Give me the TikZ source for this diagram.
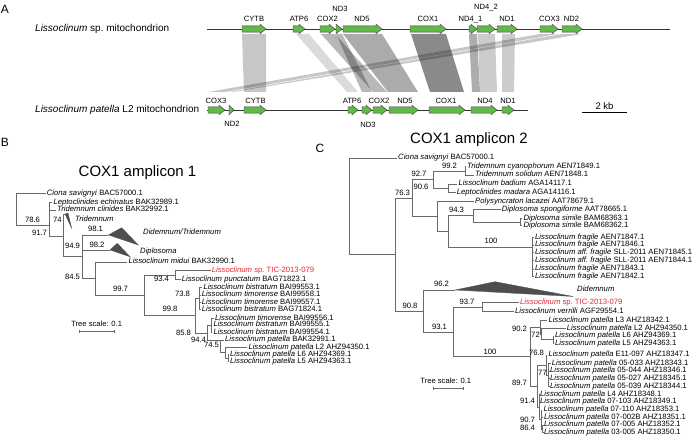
\documentclass[tikz,border=0pt]{standalone}
\usepackage{fontspec}
\setmainfont{Liberation Sans}
\usetikzlibrary{arrows.meta}
\definecolor{genegreen}{RGB}{98,184,73}
\definecolor{ticred}{RGB}{228,38,52}
\definecolor{branchgray}{RGB}{105,105,105}
\definecolor{cladegray}{RGB}{78,78,78}

\begin{document}
\begin{tikzpicture}[
    x=1pt, y=-1pt,
    leaf/.style={anchor=west, inner sep=1pt, text height=5.4pt, text depth=1.5pt, font=\fontsize{7.7}{8}\selectfont},
    boot/.style={inner sep=0pt, text height=5.4pt, text depth=1.5pt, font=\fontsize{7.7}{8}\selectfont},
    branch/.style={draw=branchgray, line width=0.5pt},
    clade/.style={fill=cladegray, draw=cladegray, line width=0.3pt},
    gene/.style={fill=genegreen, draw=black!75, line width=0.45pt},
    glab/.style={inner sep=0pt, font=\fontsize{7.6}{8}\selectfont},
    band/.style={fill=black},
    species/.style={anchor=west, inner sep=0pt, font=\fontsize{10}{12}\selectfont},
    title/.style={inner sep=0pt, font=\fontsize{15}{18}\selectfont},
    panel/.style={inner sep=0pt, font=\fontsize{12}{14}\selectfont},
    scale_txt/.style={inner sep=0pt, font=\fontsize{7.6}{8}\selectfont}
]
\useasboundingbox (0,0) rectangle (696,446);

% ================= Panel A: genome maps =================

\node[panel] (pA) at (5,9.5) {A};
\node[species] (spTop) at (35,29) {\textit{Lissoclinum} sp.\ mitochondrion};
\node[species] (spBot) at (35,110) {\textit{Lissoclinum patella} L2 mitochondrion};

\coordinate (topL) at (207,29);
\coordinate (topR) at (670,29);
\coordinate (botL) at (207,110);
\coordinate (botR) at (528,110);

% Synteny bands (top gene -> bottom gene)
\foreach \a/\b/\c/\d/\o in {242/266/244/266/0.22, 296/309/347/358/0.14, 321/335/373/387/0.28,
    336/342/362/372/0.28, 343/382/388/418/0.33, 411/446/430/464/0.46, 469/477/472/480/0.32,
    478/495/480/497/0.2, 502/515/502/514/0.2, 540/558/208/225/0.22, 562/582/229/234/0.22}
  \fill[band, fill opacity=\o] (\a,34) -- (\b,34) -- (\d,92) -- (\c,92) -- cycle;

\draw[line width=0.6pt, black!80] (topL) -- (topR);
\draw[line width=0.6pt, black!80] (botL) -- (botR);

% Genes, top genome
\foreach \a/\b in {242/266, 293/305, 320/335, 336/342, 343/382, 410/446, 469/477, 477/495, 497/517, 540/558, 562/582}{
  \pgfmathsetmacro\hd{min(6,\b-\a)}
  \draw[gene] (\a,25.8) -- (\b-\hd,25.8) -- (\b-\hd,24.2) -- (\b,29) -- (\b-\hd,33.8) -- (\b-\hd,32.2) -- (\a,32.2) -- cycle;
}
% Genes, bottom genome
\foreach \a/\b in {208/225, 229/234, 244/266, 348/358, 362/372, 373/387, 389/418, 429/465, 471/497, 502/514}{
  \pgfmathsetmacro\hd{min(6,\b-\a)}
  \draw[gene] (\a,106.8) -- (\b-\hd,106.8) -- (\b-\hd,105.2) -- (\b,110) -- (\b-\hd,114.8) -- (\b-\hd,113.2) -- (\a,113.2) -- cycle;
}

% Gene labels
\foreach \nm/\px/\py/\lbl in {tCYTB/254/19.3/CYTB, tATP6/299/19.3/ATP6, tCOX2/327.5/19.3/COX2, tND3/340/9.3/ND3,
    tND5/362/19.3/ND5, tCOX1/428/19.3/COX1, tNDa/470.5/19.3/ND4\_1, tNDb/486/7.8/ND4\_2, tND1/507/19.3/ND1,
    tCOX3/549.5/19.3/COX3, tND2/571.5/19.3/ND2,
    bCOX3/216/101/COX3, bND2/232/123.5/ND2, bCYTB/255.5/101/CYTB, bATP6/352/101/ATP6, bND3/368/124.5/ND3,
    bCOX2/379/101/COX2, bND5/405/101/ND5, bCOX1/446/101/COX1, bND4/485/101/ND4, bND1/508/101/ND1}
  \node[glab] (\nm) at (\px,\py) {\lbl};

% Scale bar
\coordinate (kbL) at (582,112.3);
\coordinate (kbR) at (627,112.3);
\draw[line width=0.6pt] (kbL) -- (kbR);
\node[inner sep=0pt, font=\fontsize{9.5}{11}\selectfont] (kb) at (604.5,106) {2 kb};

% ================= Panel B: COX1 amplicon 1 =================

\node[panel] (pB) at (5,142) {B};
\node[title] (tB) at (137.5,172.5) {COX1 amplicon 1};

% Leaves
\foreach \nm/\px/\py/\lbl in {
    bCio/45.7/193.3/{\textit{Ciona savignyi} BAC57000.1},
    bLep/52.3/202.3/{\textit{Leptoclinides echinatus} BAK32989.1},
    bTcl/56/210/{\textit{Tridemnum clinides} BAK32992.1},
    bTriL/74/219.3/{\textit{Tridemnum}},
    bDidL/142/232.7/{\textit{Didemnum/Tridemnum}},
    bDipL/139/252/{\textit{Diplosoma}},
    bMid/127.3/262/{\textit{Lissoclinum midui} BAK32990.1},
    bPun/180.7/279.3/{\textit{Lissoclinum punctatum} BAG71823.1},
    bBi1/202.3/287.3/{\textit{Lissoclinum bistratum} BAI99553.1},
    bTi1/200.7/295/{\textit{Lissoclinum timorense} BAI99558.1},
    bTi2/200.7/302.3/{\textit{Lissoclinum timorense} BAI99557.1},
    bBi2/200.7/309.3/{\textit{Lissoclinum bistratum} BAG71824.1},
    bTi3/214/318.3/{\textit{Lissoclinum timorense} BAI99556.1},
    bBi3/212.3/325/{\textit{Lissoclinum bistratum} BAI99555.1},
    bBi4/212.3/332.7/{\textit{Lissoclinum bistratum} BAI99554.1},
    bPa1/224/340/{\textit{Lissoclinum patella} BAK32991.1},
    bPL2/247.3/347.3/{\textit{Lissoclinum patella} L2 AHZ94350.1},
    bPL6/229/354.3/{\textit{Lissoclinum patella} L6 AHZ94369.1},
    bPL5/229/361.7/{\textit{Lissoclinum patella} L5 AHZ94363.1}}
  \node[leaf] (\nm) at (\px,\py) {\lbl};
\node[leaf, text=ticred] (bTIC) at (210.7,270.7) {\textit{Lissoclinum} sp.\ TIC-2013-079};

% Internal nodes
\foreach \nm/\px/\py in {bR/16/209, bA/49/225, b91/63/236, b949/82/256.5, b845/95/278.6, b997/144/295.3,
    b934/175/275, b998/195/315.5, b738/199/298, b858/207/333, bTim/211/325.3, b944/220/340,
    b745/225/352.7, bL65/228/358, bTriT/65/214, bDidT/108.3/235, bDipT/110/250}
  \coordinate (\nm) at (\px,\py);

% Collapsed clades
\fill[clade] (bTriT) -- (68,213) -- (71.7,228.3) -- cycle;
\fill[clade] (bDidT) -- (121.7,227.7) -- (138.3,245) -- cycle;
\fill[clade] (bDipT) -- (117.3,243.3) -- (130,256.7) -- cycle;

% Branches
\foreach \pa/\ch in {bR/bCio, bR/bA, bA/bLep, bA/bTcl, bA/b91, b91/bTriT, b91/b949, b949/bDidT, b949/bDipT,
    b949/b845, b845/bMid, b845/b997, b997/b934, b997/b998, b934/bTIC, b934/bPun, b998/b738, b998/b858,
    b738/bBi1, b738/bTi1, b738/bTi2, b738/bBi2, b858/bTim, b858/b944, bTim/bTi3, bTim/bBi3, bTim/bBi4,
    b944/bPa1, b944/b745, b745/bPL2, b745/bL65, bL65/bPL6, bL65/bPL5}
  \draw[branch] (\pa) |- (\ch);

% Support values
\foreach \nm/\px/\py/\lbl in {s786/32.5/220.7/78.6, s74/57.5/220.7/74, s917/39.5/234/91.7, s981/95.5/230/98.1,
    s949/72.5/247/94.9, s982/97/246/98.2, s845/72.5/278/84.5, s997/120.5/290/99.7, s934/161.5/280/93.4,
    s738/182.5/295/73.8, s998/170/309.5/99.8, s858/183.5/334/85.8, s944/198.5/340.7/94.4, s745/211.5/345.5/74.5}
  \node[boot] (\nm) at (\px,\py) {\lbl};

% Tree scale
\coordinate (bsL) at (79.3,331.7);
\coordinate (bsR) at (114,331.7);
\draw[branch, {Bar[width=3pt]}-{Bar[width=3pt]}] (bsL) -- (bsR);
\node[scale_txt] (bsT) at (96.7,324) {Tree scale: 0.1};

% ================= Panel C: COX1 amplicon 2 =================

\node[panel] (pC) at (320,148.5) {C};
\node[title] (tC) at (469,139.5) {COX1 amplicon 2};

% Leaves
\foreach \nm/\px/\py/\lbl in {
    cCio/397/158/{\textit{Ciona savignyi} BAC57000.1},
    cTcy/466/166.7/{\textit{Tridemnum cyanophorum} AEN71849.1},
    cTso/474/175/{\textit{Tridemnum solidum} AEN71848.1},
    cLba/457.3/184/{\textit{Lissoclinum badium} AGA14117.1},
    cLma/455.7/192.7/{\textit{Leptoclinides madara} AGA14116.1},
    cPol/474/201.7/{\textit{Polysyncraton lacazei} AAT78679.1},
    cDsp/500.7/209.3/{\textit{Diplosoma spongiforme} AAT78665.1},
    cDs1/522.3/218.3/{\textit{Diplosoma simile} BAM68363.1},
    cDs2/522.3/225.7/{\textit{Diplosoma simile} BAM68362.1},
    cFr1/534/237.3/{\textit{Lissoclinum fragile} AEN71847.1},
    cFr2/534/245/{\textit{Lissoclinum fragile} AEN71846.1},
    cFr3/534/252.7/{\textit{Lissoclinum aff.\ fragile} SLL-2011 AEN71845.1},
    cFr4/534/260.7/{\textit{Lissoclinum aff.\ fragile} SLL-2011 AEN71844.1},
    cFr5/534/269/{\textit{Lissoclinum fragile} AEN71843.1},
    cFr6/534/276.7/{\textit{Lissoclinum fragile} AEN71842.1},
    cDidL/576/289.3/{\textit{Didemnum}},
    cVer/514/311.7/{\textit{Lissoclinum verrilli} AGF29554.1},
    cL3/547.3/320.7/{\textit{Lissoclinum patella} L3 AHZ18342.1},
    cL2/565.7/328.3/{\textit{Lissoclinum patella} L2 AHZ94350.1},
    cL6/554/336/{\textit{Lissoclinum patella} L6 AHZ94369.1},
    cL5/554/343.3/{\textit{Lissoclinum patella} L5 AHZ94363.1},
    cE11/547.3/355/{\textit{Lissoclinum patella} E11-097 AHZ18347.1},
    c033/550.7/363.3/{\textit{Lissoclinum patella} 05-033 AHZ18343.1},
    c044/549/371/{\textit{Lissoclinum patella} 05-044 AHZ18346.1},
    c027/549/378.7/{\textit{Lissoclinum patella} 05-027 AHZ18345.1},
    c039/549/386.7/{\textit{Lissoclinum patella} 05-039 AHZ18344.1},
    cL4/539/394.3/{\textit{Lissoclinum patella} L4 AHZ18348.1},
    c103/539/402/{\textit{Lissoclinum patella} 07-103 AHZ18349.1},
    c110/542.3/410/{\textit{Lissoclinum patella} 07-110 AHZ18353.1},
    c02B/543/417.7/{\textit{Lissoclinum patella} 07-002B AHZ18351.1},
    c005/543/425/{\textit{Lissoclinum patella} 07-005 AHZ18352.1},
    c305/543/432.7/{\textit{Lissoclinum patella} 03-005 AHZ18350.1}}
  \node[leaf] (\nm) at (\px,\py) {\lbl};
\node[leaf, text=ticred] (cTIC) at (519,302.3) {\textit{Lissoclinum} sp.\ TIC-2013-079};

% Internal nodes
\foreach \nm/\px/\py in {cR/349/206.2, cN/395/254.5, c76/412/198, c92/433/179.7, c99/465/170.9, c906/448/188.3,
    cLow/437/216.4, cD/448/231.3, c94/473/215.6, cSim/520/222, c100a/532/247, c908/423/310.9,
    c931/453/331.8, c937/482/307, c100b/530/356.7, c902/540/327.4, c72/541.5/334, cL65/553/339.7,
    c897/537/386, c768/546/365, c77/548.5/375, c914/539/406.9, c907/541/419.4, c864/542.5/428.9,
    cDidT/455/290}
  \coordinate (\nm) at (\px,\py);

% Collapsed clade
\fill[clade] (cDidT) -- (495,281.7) -- (573.3,296.5) -- cycle;

% Branches
\foreach \pa/\ch in {cR/cCio, cR/cN, cN/c76, cN/c908, c76/c92, c76/cLow, c92/c99, c92/c906, c99/cTcy, c99/cTso,
    c906/cLba, c906/cLma, cLow/cPol, cLow/cD, cD/c94, cD/c100a, c94/cDsp, c94/cSim, cSim/cDs1, cSim/cDs2,
    c100a/cFr1, c100a/cFr2, c100a/cFr3, c100a/cFr4, c100a/cFr5, c100a/cFr6, c908/cDidT, c908/c931,
    c931/c937, c931/c100b, c937/cTIC, c937/cVer, c100b/c902, c100b/c897, c902/cL3, c902/c72, c72/cL2,
    c72/cL65, cL65/cL6, cL65/cL5, c897/c768, c897/c914, c768/cE11, c768/c77, c77/c033, c77/c044,
    c77/c027, c77/c039, c914/cL4, c914/c103, c914/c907, c907/c110, c907/c02B, c907/c864, c864/c005, c864/c305}
  \draw[branch] (\pa) |- (\ch);

% Support values
\foreach \nm/\px/\py/\lbl in {t992/449.5/167/99.2, t927/419/175/92.7, t906/421/188/90.6, t763/402.5/193.3/76.3,
    t943/456.5/210.5/94.3, t100a/491/242/100, t962/441.5/285/96.2, t908/410/306.3/90.8, t937/467/302.5/93.7,
    t931/439.5/327.3/93.1, t902/519.5/330/90.2, t72/535.5/335.5/72, t100b/490/352.3/100, t768/536.5/353.5/76.8,
    t77/542.5/373.3/77, t897/519.5/383.3/89.7, t914/527.5/402/91.4, t907/527.5/421/90.7, t864/527.5/428.5/86.4}
  \node[boot] (\nm) at (\px,\py) {\lbl};

% Tree scale
\coordinate (csL) at (432.7,388.3);
\coordinate (csR) at (463.3,388.3);
\draw[branch, {Bar[width=3pt]}-{Bar[width=3pt]}] (csL) -- (csR);
\node[scale_txt] (csT) at (445.8,381) {Tree scale: 0.1};

\end{tikzpicture}
\end{document}
